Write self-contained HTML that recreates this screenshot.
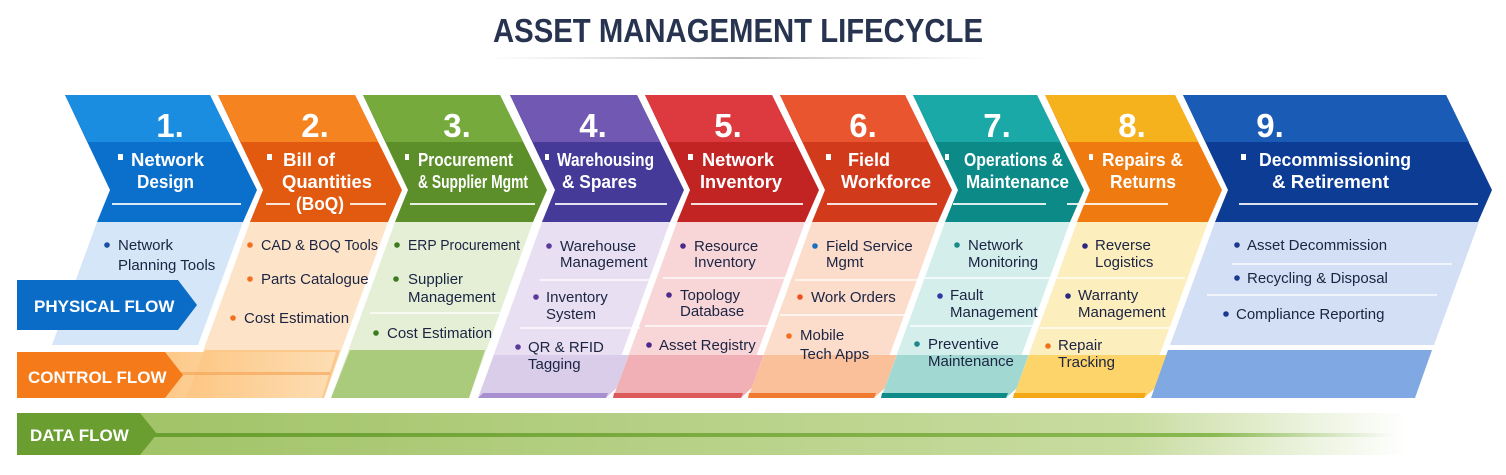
<!DOCTYPE html>
<html><head><meta charset="utf-8"><style>
html,body{margin:0;padding:0;background:#fff;}
svg{display:block;}
text{font-family:"Liberation Sans",sans-serif;}
.n{font-size:33px;font-weight:bold;fill:#fff;text-anchor:middle;}
.h{font-size:18px;font-weight:bold;fill:#fff;}
.i{font-size:15px;fill:#1b2442;}
</style></head><body>
<svg width="1506" height="475" viewBox="0 0 1506 475" xmlns="http://www.w3.org/2000/svg">
<defs>
<linearGradient id="tl" x1="0" x2="1"><stop offset="0" stop-color="#ccc" stop-opacity="0"/><stop offset=".5" stop-color="#bbb"/><stop offset="1" stop-color="#ccc" stop-opacity="0"/></linearGradient>
<linearGradient id="df" x1="0" x2="1"><stop offset="0" stop-color="#9dc060"/><stop offset=".8" stop-color="#c8dca0"/><stop offset="1" stop-color="#fff"/></linearGradient>
<linearGradient id="dfl" x1="0" x2="1"><stop offset="0" stop-color="#6a9e30"/><stop offset=".85" stop-color="#8ab850"/><stop offset="1" stop-color="#fff"/></linearGradient>
<linearGradient id="cf" x1="0" x2="1"><stop offset="0" stop-color="#fdc27a"/><stop offset="1" stop-color="#fde0b8"/></linearGradient>
</defs>
<rect width="1506" height="475" fill="#fff"/>
<text x="738" y="42" text-anchor="middle" font-size="33" font-weight="bold" fill="#27334f" textLength="490" lengthAdjust="spacingAndGlyphs">ASSET MANAGEMENT LIFECYCLE</text>
<rect x="487" y="57" width="503" height="2" fill="url(#tl)"/>

<!-- data flow -->
<rect x="17" y="413" width="1390" height="42" fill="url(#df)"/>
<rect x="140" y="433" width="1260" height="4" fill="url(#dfl)"/>
<polygon points="17,413 140,413 157,434 140,455 17,455" fill="#6a9e30"/>
<text x="30" y="441" font-size="17" font-weight="bold" fill="#fff">DATA FLOW</text>

<!-- bodies -->
<g>
<polygon points="97,222 243,222 198,345 52,345" fill="#d4e6f7"/>
<polygon points="250,222 388,222 324,398 186,398" fill="#fde4c8"/>
<polygon points="205,350 340,350 324,398 186,398" fill="#fcc78a"/>
<polygon points="395,222 533,222 469,398 331,398" fill="#e4efd6"/>
<polygon points="350,350 485,350 469,398 331,398" fill="#aacb7c"/>
<polygon points="542,222 670,222 606,398 478,398" fill="#e8e0f2"/>
<polygon points="494,355 651,355 606,398 478,398" fill="#d9cdea"/>
<polygon points="483,393 608,393 606,398 478,398" fill="#a890d0"/>
<polygon points="677,222 805,222 741,398 613,398" fill="#f8d6d8"/>
<polygon points="629,355 786,355 741,398 613,398" fill="#f0b0b5"/>
<polygon points="614,393 743,393 741,398 613,398" fill="#dc5a5a"/>
<polygon points="812,222 938,222 874,398 748,398" fill="#fcdccb"/>
<polygon points="764,355 921,355 874,398 748,398" fill="#f9c09a"/>
<polygon points="749,393 876,393 874,398 748,398" fill="#f07a30"/>
<polygon points="945,222 1070,222 1006,398 881,398" fill="#d4eeec"/>
<polygon points="897,355 1054,355 1006,398 881,398" fill="#a2d8d2"/>
<polygon points="882,393 1008,393 1006,398 881,398" fill="#0e8a88"/>
<polygon points="1077,222 1208,222 1144,398 1013,398" fill="#fdeebe"/>
<polygon points="1029,355 1192,355 1144,398 1013,398" fill="#fdd46a"/>
<polygon points="1014,393 1146,393 1144,398 1013,398" fill="#f5a815"/>
<polygon points="1215,222 1479,222 1434,345 1170,345" fill="#d2dff4"/>
<polygon points="1168,350 1432,350 1415,398 1151,398" fill="#80a8e2"/>
</g>
<!-- dividers -->
<g stroke="#fff" stroke-width="1.5" opacity=".9">
<line x1="370" y1="313" x2="500" y2="313"/>
<line x1="540" y1="280" x2="655" y2="280"/><line x1="520" y1="328" x2="640" y2="328"/>
<line x1="663" y1="278" x2="790" y2="278"/><line x1="645" y1="326" x2="770" y2="326"/>
<line x1="795" y1="280" x2="920" y2="280"/><line x1="780" y1="315" x2="905" y2="315"/>
<line x1="925" y1="278" x2="1050" y2="278"/><line x1="910" y1="326" x2="1035" y2="326"/>
<line x1="1055" y1="278" x2="1185" y2="278"/><line x1="1040" y1="328" x2="1170" y2="328"/>
<line x1="1232" y1="264" x2="1452" y2="264"/><line x1="1207" y1="295" x2="1437" y2="295"/>
</g>

<!-- headers -->
<g>
<polygon points="65,95 210,95 257,190 243,222 97,222 110,190" fill="#0b6fcc"/>
<polygon points="65,95 210,95 233,142 88,142" fill="#1a8de0"/>
<polygon points="218,95 355,95 402,190 388,222 250,222 263,190" fill="#e25a10"/>
<polygon points="218,95 355,95 378,142 241,142" fill="#f5831f"/>
<polygon points="363,95 500,95 547,190 533,222 395,222 408,190" fill="#5c8e2a"/>
<polygon points="363,95 500,95 523,142 386,142" fill="#76aa3c"/>
<polygon points="510,95 637,95 684,190 670,222 542,222 555,190" fill="#463a98"/>
<polygon points="510,95 637,95 660,142 533,142" fill="#7158b2"/>
<polygon points="645,95 772,95 819,190 805,222 677,222 690,190" fill="#c22424"/>
<polygon points="645,95 772,95 795,142 668,142" fill="#dc3a3e"/>
<polygon points="780,95 905,95 952,190 938,222 812,222 825,190" fill="#d23a1c"/>
<polygon points="780,95 905,95 928,142 803,142" fill="#e8552e"/>
<polygon points="913,95 1037,95 1084,190 1070,222 945,222 958,190" fill="#0b8a88"/>
<polygon points="913,95 1037,95 1060,142 936,142" fill="#1aa9a7"/>
<polygon points="1045,95 1175,95 1222,190 1208,222 1077,222 1090,190" fill="#ef7a10"/>
<polygon points="1045,95 1175,95 1198,142 1068,142" fill="#f6b21c"/>
<polygon points="1183,95 1446,95 1492,190 1478,222 1215,222 1228,190" fill="#0c3c94"/>
<polygon points="1183,95 1446,95 1469,142 1206,142" fill="#1a5cb5"/>
</g>
<g stroke="#fff" stroke-width="2" opacity=".85">
<line x1="112" y1="204" x2="241" y2="204"/>
<line x1="266" y1="204" x2="290" y2="204"/><line x1="350" y1="204" x2="386" y2="204"/>
<line x1="410" y1="204" x2="535" y2="204"/>
<line x1="555" y1="204" x2="667" y2="204"/>
<line x1="691" y1="204" x2="803" y2="204"/>
<line x1="827" y1="204" x2="937" y2="204"/>
<line x1="953" y1="204" x2="1046" y2="204"/>
<line x1="1067" y1="204" x2="1168" y2="204"/>
<line x1="1239" y1="204" x2="1478" y2="204"/>
</g>
<text class="n" x="170" y="137">1.</text>
<text class="n" x="315" y="137">2.</text>
<text class="n" x="457" y="137">3.</text>
<text class="n" x="593" y="137">4.</text>
<text class="n" x="728" y="137">5.</text>
<text class="n" x="863" y="137">6.</text>
<text class="n" x="997" y="137">7.</text>
<text class="n" x="1132" y="137">8.</text>
<text class="n" x="1270" y="137">9.</text>
<g fill="#fff">
<rect x="118" y="154" width="5" height="6"/><rect x="267" y="154" width="5" height="6"/><rect x="405" y="154" width="4" height="6"/>
<rect x="545" y="154" width="4" height="6"/><rect x="688" y="154" width="5" height="6"/><rect x="826" y="154" width="5" height="6"/>
<rect x="945" y="154" width="4" height="6"/><rect x="1089" y="154" width="4" height="6"/><rect x="1241" y="154" width="5" height="6"/>
</g>
<text class="h" x="131" y="166" textLength="73" lengthAdjust="spacingAndGlyphs">Network</text><text class="h" x="137" y="188" textLength="57" lengthAdjust="spacingAndGlyphs">Design</text>
<text class="h" x="283" y="166" textLength="52" lengthAdjust="spacingAndGlyphs">Bill of</text><text class="h" x="282" y="188" textLength="90" lengthAdjust="spacingAndGlyphs">Quantities</text><text class="h" x="296" y="210" textLength="48" lengthAdjust="spacingAndGlyphs">(BoQ)</text>
<text class="h" x="418" y="166" font-weight="normal" font-size="16.5" textLength="95" lengthAdjust="spacingAndGlyphs">Procurement</text><text class="h" x="418" y="188" font-weight="normal" font-size="16.5" textLength="110" lengthAdjust="spacingAndGlyphs">&amp; Supplier Mgmt</text>
<text class="h" x="557" y="166" font-weight="normal" font-size="16.5" textLength="97" lengthAdjust="spacingAndGlyphs">Warehousing</text><text class="h" x="562" y="188" textLength="75" lengthAdjust="spacingAndGlyphs">&amp; Spares</text>
<text class="h" x="702" y="166" textLength="72" lengthAdjust="spacingAndGlyphs">Network</text><text class="h" x="700" y="188" textLength="82" lengthAdjust="spacingAndGlyphs">Inventory</text>
<text class="h" x="848" y="166" textLength="42" lengthAdjust="spacingAndGlyphs">Field</text><text class="h" x="841" y="188" textLength="90" lengthAdjust="spacingAndGlyphs">Workforce</text>
<text class="h" x="964" y="166" font-weight="normal" font-size="16.5" textLength="99" lengthAdjust="spacingAndGlyphs">Operations &amp;</text><text class="h" x="966" y="188" font-weight="normal" font-size="16.5" textLength="103" lengthAdjust="spacingAndGlyphs">Maintenance</text>
<text class="h" x="1102" y="166" textLength="81" lengthAdjust="spacingAndGlyphs">Repairs &amp;</text><text class="h" x="1110" y="188" textLength="66" lengthAdjust="spacingAndGlyphs">Returns</text>
<text class="h" x="1259" y="166" textLength="152" lengthAdjust="spacingAndGlyphs">Decommissioning</text><text class="h" x="1272" y="188" textLength="117" lengthAdjust="spacingAndGlyphs">&amp; Retirement</text>

<!-- items -->
<g>
<circle cx="107" cy="245" r="2.8" fill="#1a4fa0"/>
<text class="i" x="118" y="250">Network</text><text class="i" x="118" y="270">Planning Tools</text>
<g fill="#f07020"><circle cx="250" cy="245" r="2.8"/><circle cx="250" cy="279" r="2.8"/><circle cx="233" cy="318" r="2.8"/></g>
<text class="i" x="261" y="250" textLength="117" lengthAdjust="spacingAndGlyphs">CAD &amp; BOQ Tools</text><text class="i" x="261" y="284">Parts Catalogue</text><text class="i" x="244" y="323">Cost Estimation</text>
<g fill="#3d7a20"><circle cx="397" cy="245" r="2.8"/><circle cx="396" cy="279" r="2.8"/><circle cx="376" cy="333" r="2.8"/></g>
<text class="i" x="408" y="250" textLength="112" lengthAdjust="spacingAndGlyphs">ERP Procurement</text><text class="i" x="408" y="284">Supplier</text><text class="i" x="408" y="302">Management</text><text class="i" x="387" y="338">Cost Estimation</text>
<g fill="#5a3a9a"><circle cx="549" cy="246" r="2.8"/><circle cx="536" cy="297" r="2.8"/><circle cx="518" cy="347" r="2.8"/></g>
<text class="i" x="560" y="251">Warehouse</text><text class="i" x="560" y="267">Management</text><text class="i" x="546" y="302">Inventory</text><text class="i" x="546" y="319">System</text><text class="i" x="528" y="352">QR &amp; RFID</text><text class="i" x="528" y="369">Tagging</text>
<g fill="#4a2a8a"><circle cx="683" cy="246" r="2.8"/><circle cx="669" cy="295" r="2.8"/><circle cx="649" cy="345" r="2.8"/></g>
<text class="i" x="694" y="251">Resource</text><text class="i" x="694" y="267">Inventory</text><text class="i" x="680" y="300">Topology</text><text class="i" x="680" y="316">Database</text><text class="i" x="659" y="350">Asset Registry</text>
<circle cx="815" cy="246" r="2.8" fill="#1a70c0"/><circle cx="800" cy="297" r="2.8" fill="#f05020"/><circle cx="789" cy="336" r="2.8" fill="#f07020"/>
<text class="i" x="826" y="251">Field Service</text><text class="i" x="826" y="267">Mgmt</text><text class="i" x="811" y="302">Work Orders</text><text class="i" x="800" y="340">Mobile</text><text class="i" x="800" y="359">Tech Apps</text>
<circle cx="957" cy="245" r="2.8" fill="#1a8a88"/><circle cx="940" cy="296" r="2.8" fill="#2a3aa0"/><circle cx="917" cy="344" r="2.8" fill="#1a8a88"/>
<text class="i" x="968" y="250">Network</text><text class="i" x="968" y="267">Monitoring</text><text class="i" x="950" y="300">Fault</text><text class="i" x="950" y="317">Management</text><text class="i" x="928" y="349">Preventive</text><text class="i" x="928" y="366">Maintenance</text>
<circle cx="1085" cy="246" r="2.8" fill="#2a2a80"/><circle cx="1068" cy="296" r="2.8" fill="#2a2a80"/><circle cx="1048" cy="346" r="2.8" fill="#f07020"/>
<text class="i" x="1095" y="250">Reverse</text><text class="i" x="1095" y="267">Logistics</text><text class="i" x="1078" y="300">Warranty</text><text class="i" x="1078" y="317">Management</text><text class="i" x="1058" y="350">Repair</text><text class="i" x="1058" y="367">Tracking</text>
<g fill="#1a3a90"><circle cx="1237" cy="245" r="2.8"/><circle cx="1237" cy="278" r="2.8"/><circle cx="1226" cy="314" r="2.8"/></g>
<text class="i" x="1247" y="250">Asset Decommission</text><text class="i" x="1247" y="283">Recycling &amp; Disposal</text><text class="i" x="1236" y="319">Compliance Reporting</text>
</g>

<!-- control flow -->
<polygon points="160,352 336,352 322,398 160,398" fill="url(#cf)" opacity=".9"/>
<rect x="180" y="372" width="150" height="3" fill="#f5a050" opacity=".6"/>
<polygon points="17,352 165,352 183,375 165,398 17,398" fill="#f57a1a"/>
<text x="28" y="383" font-size="17" font-weight="bold" fill="#fff">CONTROL FLOW</text>
<!-- physical flow -->
<polygon points="17,280 178,280 197,305 178,330 17,330" fill="#0b6cc8"/>
<text x="34" y="312" font-size="17" font-weight="bold" fill="#fff">PHYSICAL FLOW</text>
</svg>
</body></html>
